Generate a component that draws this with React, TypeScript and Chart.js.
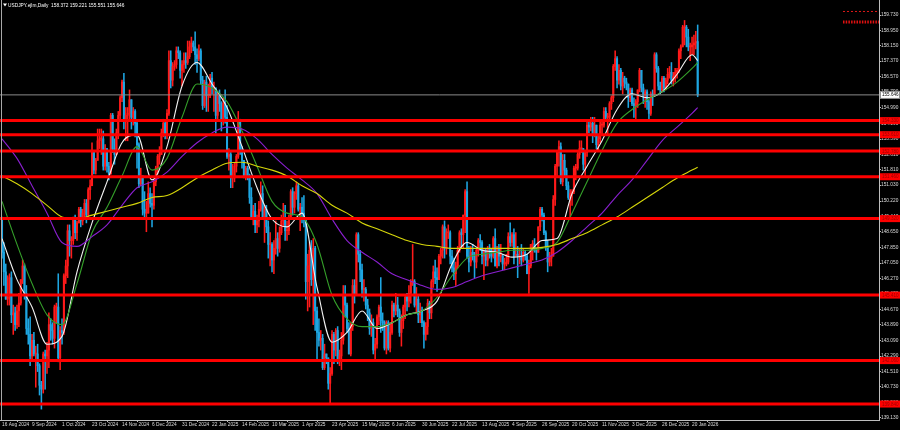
import React, { useEffect, useRef } from "react";
import { Chart, registerables } from "chart.js";

Chart.register(...registerables);

// ---- Daily OHLC bars [open, high, low, close] ----
const aug2024 = [
  [149.30,149.40,147.30,147.60],[147.60,148.10,145.90,146.60],[146.60,147.00,145.20,145.20],[145.20,146.40,144.90,145.30],
  [145.30,146.50,144.90,146.30],[146.30,146.60,144.00,144.40],[144.40,144.90,143.40,144.50],[144.50,144.80,143.60,143.90],
  [143.90,144.90,143.70,144.60],[144.60,145.50,143.80,145.00],[145.00,146.20,144.90,146.20],
];
const sep2024 = [
  [146.20,147.20,146.00,146.90],[146.90,147.00,145.20,145.50],[145.50,145.90,143.40,143.70],[143.70,144.20,142.90,143.40],
  [143.40,144.30,141.80,142.30],[142.30,143.40,142.00,143.10],[143.10,143.50,142.30,142.40],[142.40,142.80,140.70,142.40],
  [142.40,142.90,141.50,141.80],[141.80,141.90,140.30,140.80],[140.80,141.00,139.58,140.60],[140.60,142.50,140.40,142.40],
  [142.40,142.60,140.60,142.30],[142.30,143.00,141.40,142.60],[142.60,144.50,141.70,143.90],[143.90,144.20,143.10,143.60],
  [143.60,144.00,142.90,143.20],[143.20,144.90,142.70,144.80],[144.80,145.00,144.00,144.80],[144.80,146.50,142.00,142.20],
  [142.20,143.80,141.60,143.60],
];
const oct2024 = [
  [143.60,144.20,142.90,143.50],[143.50,146.50,143.40,146.40],[146.40,147.20,146.00,146.90],[146.90,149.00,146.30,148.70],
  [148.70,149.00,147.40,148.20],[148.20,148.40,147.30,148.20],[148.20,149.40,148.00,149.30],[149.30,149.50,148.30,148.60],
  [148.60,149.20,148.20,149.10],[149.10,149.90,149.10,149.80],[149.80,149.90,148.90,149.20],[149.20,149.80,149.00,149.60],
  [149.60,150.30,149.30,150.10],[150.10,150.30,149.10,149.50],[149.50,150.90,149.40,150.80],[150.80,151.30,150.30,151.00],
  [151.00,153.20,151.00,152.70],[152.70,152.80,151.60,151.80],[151.80,152.40,151.60,152.30],[152.30,153.90,152.30,153.30],
  [153.30,153.90,152.90,153.40],[153.40,153.90,152.60,153.40],[153.40,153.80,151.80,152.00],
];
const nov2024 = [
  [152.00,153.10,151.80,152.90],[152.90,152.90,151.70,152.00],[152.00,152.20,151.30,151.60],[151.60,154.70,151.60,154.60],
  [154.60,154.70,152.70,152.90],[152.90,153.40,152.10,152.60],[152.60,153.90,152.60,153.70],[153.70,154.80,153.40,154.60],
  [154.60,155.60,154.30,155.50],[155.50,156.40,155.30,156.30],[156.30,156.75,153.90,154.30],[154.30,155.00,153.30,154.60],
  [154.60,155.00,153.30,154.70],[154.70,155.90,154.40,155.40],[155.40,155.40,153.90,154.50],[154.50,155.00,154.10,154.80],
  [154.80,154.90,153.50,154.20],[154.20,154.40,151.90,153.10],[153.10,153.20,150.90,151.10],[151.10,151.90,151.00,151.50],
  [151.50,151.50,149.50,149.80],
];
const dec2024 = [
  [149.80,150.70,149.30,149.60],[149.60,150.20,148.65,149.60],[149.60,151.20,149.60,150.60],[150.60,150.90,149.90,150.10],
  [150.10,150.60,148.90,150.00],[150.00,151.30,149.80,151.20],[151.20,152.00,151.00,151.90],[151.90,152.60,151.60,152.50],
  [152.50,153.00,152.10,152.60],[152.60,153.90,152.60,153.70],[153.70,154.40,153.50,154.20],[154.20,154.30,153.40,153.60],
  [153.60,154.90,153.40,154.70],[154.70,157.90,154.60,157.40],[157.40,157.90,156.00,156.40],[156.40,157.30,156.10,157.10],
  [157.10,157.40,156.90,157.20],[157.20,158.10,157.00,157.90],[157.90,158.10,157.50,157.80],[157.80,157.90,156.50,156.90],
  [156.90,157.40,156.10,157.20],
];
const jan2025 = [
  [157.20,157.80,156.80,157.40],[157.40,157.80,157.00,157.30],[157.30,158.40,157.20,157.60],[157.60,158.40,157.50,158.10],
  [158.10,158.60,157.80,158.30],[158.30,158.40,157.90,158.10],[158.10,158.87,157.20,157.70],[157.70,158.00,156.80,157.50],
  [157.50,158.20,157.40,157.90],[157.90,158.00,156.20,156.40],[156.40,156.60,154.90,155.10],[155.10,156.40,155.00,156.30],
  [156.30,156.60,154.80,155.60],[155.60,156.20,154.80,155.60],[155.60,156.70,155.50,156.50],[156.50,156.80,155.70,156.00],
  [156.00,156.30,154.80,156.00],[156.00,156.00,153.70,154.60],[154.60,155.80,154.40,155.60],[155.60,155.90,154.80,155.20],
  [155.20,155.30,153.80,154.30],[154.30,155.50,154.10,155.20],
];
const feb2025 = [
  [155.20,155.90,154.20,154.50],[154.50,155.10,152.40,152.50],[152.50,152.90,151.80,152.60],[152.60,152.70,150.90,151.40],
  [151.40,152.10,150.90,151.40],[151.40,152.20,151.20,152.00],[152.00,152.60,151.70,152.50],[152.50,154.80,152.40,154.40],
  [154.40,154.40,152.60,152.80],[152.80,153.00,151.90,152.30],[152.30,152.30,151.40,151.50],[151.50,152.00,151.30,151.90],
  [151.90,152.00,151.30,151.50],[151.50,151.60,150.10,150.40],[150.40,150.90,149.30,149.30],[149.30,150.00,149.00,149.70],
  [149.70,150.10,148.60,149.00],[149.00,149.50,148.60,149.20],[149.20,150.20,148.90,149.80],[149.80,151.20,149.70,150.60],
];
const mar2025 = [
  [150.60,151.00,149.40,149.40],[149.40,150.00,148.10,149.80],[149.80,150.00,148.60,148.90],[148.90,149.20,147.30,148.00],
  [148.00,148.60,146.90,148.00],[148.00,148.10,146.60,147.20],[147.20,148.20,146.50,147.80],[147.80,149.20,147.50,148.30],
  [148.30,148.60,147.40,147.80],[147.80,148.90,147.60,148.60],[148.60,149.50,148.50,149.20],[149.20,150.10,148.90,149.30],
  [149.30,150.00,148.20,148.70],[148.70,149.20,148.20,148.70],[148.70,149.50,148.50,149.30],[149.30,150.80,149.30,150.70],
  [150.70,150.90,149.50,149.90],[149.90,150.70,149.60,150.60],[150.60,151.20,150.30,151.00],[151.00,151.10,149.70,149.80],
  [149.80,150.10,148.70,149.90],
];
const apr2025 = [
  [149.90,150.40,149.10,149.60],[149.60,150.50,148.90,149.30],[149.30,149.30,145.20,146.10],[146.10,147.50,144.60,146.90],
  [146.90,148.10,144.80,147.70],[147.70,148.20,145.90,146.20],[146.20,148.30,143.90,147.80],[147.80,147.90,143.60,144.60],
  [144.60,144.80,142.10,143.50],[143.50,144.20,142.80,143.10],[143.10,143.60,142.60,143.20],[143.20,143.40,141.60,141.70],
  [141.70,142.90,141.60,142.40],[142.40,142.40,141.90,142.20],[142.20,142.20,140.60,140.90],[140.90,141.70,139.89,141.40],
  [141.40,143.60,141.30,143.40],[143.40,143.50,141.90,142.60],[142.60,143.70,142.30,143.60],[143.60,143.80,141.90,142.00],
  [142.00,142.60,141.80,142.30],[142.30,143.50,141.60,143.10],
];
const may2025 = [
  [143.10,145.90,142.90,145.40],[145.40,145.90,144.30,144.90],[144.90,145.00,143.50,143.70],[143.70,144.00,142.40,142.40],
  [142.40,144.00,142.30,143.80],[143.80,146.20,143.60,145.90],[145.90,146.20,145.00,145.40],[145.40,148.60,145.40,148.50],
  [148.50,148.60,147.10,147.50],[147.50,147.70,146.10,146.70],[146.70,147.00,145.30,145.70],[145.70,146.20,145.10,145.70],
  [145.70,145.80,144.70,144.90],[144.90,145.20,144.10,144.50],[144.50,144.70,143.40,143.70],[143.70,144.40,143.30,144.00],
  [144.00,144.20,142.40,142.60],[142.60,143.20,142.10,142.90],[142.90,144.40,142.70,144.30],[144.30,144.90,143.90,144.80],
  [144.80,146.30,143.50,144.10],[144.10,144.50,143.60,144.00],
];
const jun2025 = [
  [144.00,144.10,142.60,142.70],[142.70,144.10,142.40,144.00],[144.00,144.10,142.60,142.70],[142.70,144.00,142.50,143.50],
  [143.50,145.10,143.40,144.90],[144.90,145.00,144.30,144.60],[144.60,145.50,144.40,144.90],[144.90,145.30,144.30,144.60],
  [144.60,144.70,143.30,143.50],[143.50,144.40,142.80,144.10],[144.10,144.90,143.70,144.80],[144.80,145.40,144.20,145.30],
  [145.30,145.50,144.60,145.10],[145.10,145.90,144.80,145.50],[145.50,146.20,145.00,146.10],[146.10,148.00,145.90,146.10],
  [146.10,146.20,144.80,144.90],[144.90,145.80,144.50,145.20],[145.20,145.40,144.00,144.40],[144.40,145.00,144.00,144.60],
  [144.60,144.80,143.80,144.00],
];
const jul2025 = [
  [144.00,144.10,142.70,143.40],[143.40,144.00,143.10,143.80],[143.80,145.20,143.40,145.00],[145.00,145.10,144.20,144.50],
  [144.50,146.20,144.20,146.10],[146.10,146.90,145.80,146.60],[146.60,147.20,146.00,146.30],[146.30,146.80,145.60,146.20],
  [146.20,147.50,146.20,147.40],[147.40,147.80,147.00,147.70],[147.70,149.00,147.30,148.90],[148.90,149.20,147.30,147.80],
  [147.80,148.80,147.50,148.60],[148.60,149.00,148.30,148.60],[148.60,148.70,147.00,147.40],[147.40,147.70,146.60,146.80],
  [146.80,147.30,146.20,146.50],[146.50,147.10,145.90,146.90],[146.90,147.90,146.80,147.70],[147.70,148.70,147.60,148.60],
  [148.60,148.80,147.90,148.50],[148.50,149.50,147.80,149.50],[149.50,150.80,148.60,150.70],
];
const aug2025 = [
  [150.70,151.20,147.30,147.40],[147.40,147.90,146.60,147.10],[147.10,147.90,146.90,147.60],[147.60,148.00,147.20,147.40],
  [147.40,147.60,146.30,147.10],[147.10,147.80,146.80,147.70],[147.70,148.30,147.40,148.20],[148.20,148.50,147.70,148.10],
  [148.10,148.20,147.00,147.40],[147.40,147.80,146.20,147.70],[147.70,147.80,146.90,147.20],[147.20,147.90,146.90,147.80],
  [147.80,148.00,147.30,147.70],[147.70,147.80,147.10,147.40],[147.40,148.40,147.30,148.30],[148.30,148.80,146.90,146.90],
  [146.90,147.90,146.80,147.80],[147.80,148.00,146.90,147.40],[147.40,148.00,147.10,147.40],[147.40,147.50,146.70,147.00],
  [147.00,147.30,146.70,147.00],
];
const sep2025 = [
  [147.00,147.50,146.90,147.10],[147.10,148.60,147.00,148.40],[148.40,149.10,147.90,148.10],[148.10,148.60,147.90,148.50],
  [148.50,148.80,147.00,147.40],[147.40,148.60,147.40,147.50],[147.50,147.90,146.30,147.40],[147.40,147.80,147.00,147.40],
  [147.40,148.00,146.90,147.20],[147.20,147.80,147.10,147.60],[147.60,147.70,147.20,147.40],[147.40,147.50,146.50,146.50],
  [146.50,147.20,145.50,146.90],[146.90,148.00,146.80,148.00],[148.00,148.20,147.20,148.00],[148.00,148.30,147.60,147.70],
  [147.70,147.80,147.20,147.60],[147.60,148.90,147.60,148.90],[148.90,149.90,148.70,149.80],[149.80,149.90,149.20,149.50],
  [149.50,149.60,148.50,148.60],[148.60,148.70,147.70,147.90],
];
const oct2025 = [
  [147.90,148.20,146.60,147.10],[147.10,147.60,146.90,147.30],[147.30,147.80,146.90,147.40],[147.40,150.50,147.40,150.30],
  [150.30,152.10,150.00,152.00],[152.00,152.80,151.50,152.70],[152.70,153.30,152.00,153.00],[153.00,153.20,151.10,151.20],
  [151.20,152.60,151.00,152.30],[152.30,152.60,151.50,151.80],[151.80,151.90,150.80,151.00],[151.00,151.20,150.30,150.40],
  [150.40,150.80,149.40,150.60],[150.60,150.80,150.00,150.70],[150.70,152.00,150.60,151.90],[151.90,152.10,151.30,151.90],
  [151.90,152.70,151.80,152.60],[152.60,153.30,152.40,152.90],[152.90,153.30,152.70,152.90],[152.90,152.90,151.80,152.10],
  [152.10,152.80,151.50,152.70],[152.70,154.40,152.50,154.10],[154.10,154.40,153.70,154.00],
];
const nov2025 = [
  [154.00,154.50,153.80,154.20],[154.20,154.50,153.20,153.60],[153.60,154.50,153.50,154.10],[154.10,154.10,152.90,153.10],
  [153.10,153.60,152.80,153.40],[153.40,154.30,153.20,154.10],[154.10,154.30,153.60,154.10],[154.10,155.00,154.00,154.80],
  [154.80,155.00,154.30,154.50],[154.50,154.70,153.60,154.50],[154.50,155.30,154.40,155.20],[155.20,155.60,154.90,155.50],
  [155.50,157.20,155.30,157.10],[157.10,157.90,156.90,157.50],[157.50,157.60,156.00,156.40],[156.40,157.20,156.20,156.90],
  [156.90,157.00,155.90,156.10],[156.10,156.80,155.70,156.50],[156.50,156.60,156.00,156.30],[156.30,156.50,155.90,156.20],
];
const dec2025 = [
  [156.20,156.20,155.00,155.50],[155.50,156.00,155.30,155.90],[155.90,156.00,155.10,155.20],[155.20,155.50,154.50,155.10],
  [155.10,155.40,154.40,155.30],[155.30,155.90,155.00,155.90],[155.90,157.00,155.80,156.90],[156.90,156.90,155.80,156.00],
  [156.00,156.20,155.20,155.60],[155.60,155.90,155.00,155.80],[155.80,155.90,154.90,155.30],[155.30,155.40,154.40,154.70],
  [154.70,155.80,154.60,155.70],[155.70,155.90,155.10,155.60],[155.60,157.80,155.60,157.70],[157.70,157.80,156.80,157.00],
  [157.00,157.10,155.90,156.10],[156.10,156.30,155.70,155.90],[155.90,156.60,155.80,156.50],[156.50,156.60,155.80,156.00],
  [156.00,156.50,155.90,156.40],[156.40,157.00,156.20,156.70],
];
const jan2026 = [
  [156.70,157.10,156.50,156.80],[156.80,157.30,156.20,156.40],[156.40,156.80,156.10,156.60],[156.60,157.00,156.30,156.80],
  [156.80,157.00,156.50,156.90],[156.90,158.00,156.80,157.90],[157.90,158.20,157.50,158.10],[158.10,159.20,158.10,159.10],
  [159.10,159.45,158.20,159.10],[159.10,159.20,158.10,158.60],[158.60,159.00,157.90,158.10],[158.10,158.30,157.40,158.10],
  [158.10,158.60,157.70,158.20],[158.20,158.70,157.70,158.30],[158.30,158.90,158.00,158.372],[158.372,159.221,155.551,155.646],
];

// ---- Axis labels ----
const dateLabels = [
  "16 Aug 2024","9 Sep 2024","1 Oct 2024","23 Oct 2024","14 Nov 2024","6 Dec 2024","31 Dec 2024","22 Jan 2025",
  "14 Feb 2025","10 Mar 2025","1 Apr 2025","23 Apr 2025","15 May 2025","6 Jun 2025","30 Jun 2025","22 Jul 2025",
  "13 Aug 2025","4 Sep 2025","26 Sep 2025","20 Oct 2025","11 Nov 2025","3 Dec 2025","26 Dec 2025","20 Jan 2026",
];
const dateLabelStep = 16;
const priceTicks = [
  159.73,158.95,158.15,157.37,156.57,155.79,154.99,154.19,153.39,152.61,151.81,151.03,150.22,149.44,
  148.65,147.85,147.05,146.27,145.47,144.67,143.89,143.09,142.29,141.51,140.73,139.93,139.13,
];

// ---- Horizontal levels ----
const levels = [154.33, 153.61, 152.78, 151.46, 149.32, 145.41, 142.06, 139.84];
const currentPrice = 155.646;
const orderLevels = [159.91, 159.37];
const orderLineFrom = 448.5;

// ---- Moving averages (sampled at bar index) ----
const maIndex = [0,8,16,24,32,40,48,56,64,72,80,88,96,104,112,120,128,136,144,152,160,168,176,184,192,200,
  208,216,224,232,240,248,256,264,272,280,288,296,304,312,320,328,336,344,352,360,368,371];
const maWhite = [148.3,146.2,144.8,142.9,143.3,146.6,149.1,151.2,153.2,153.6,151.3,153.0,156.1,157.3,156.2,155.0,
  153.0,150.9,149.3,148.9,149.6,145.8,143.0,143.5,144.6,143.7,144.0,144.4,144.6,145.1,147.0,148.1,
  147.7,147.6,147.35,147.5,148.2,148.3,150.6,152.0,153.3,154.9,155.7,155.5,155.8,156.7,157.7,157.4];
const maGreen = [150.2,148.0,146.0,144.4,143.9,146.0,148.6,149.9,151.5,153.0,151.8,152.4,154.5,156.2,156.0,155.3,
  153.8,152.0,150.2,149.6,149.4,148.0,145.4,144.2,143.8,143.8,144.0,144.4,144.6,145.3,146.4,147.3,
  147.5,147.6,147.7,147.7,147.8,148.1,149.6,151.2,152.8,154.2,154.9,155.4,155.8,156.3,157.0,157.3];
const maPurple = [153.4,152.4,151.0,149.6,148.1,147.9,148.4,149.0,150.0,150.9,151.2,151.7,152.5,153.2,153.7,154.0,
  153.9,153.4,152.6,151.9,151.3,150.6,149.3,148.2,147.6,147.1,146.5,146.2,145.9,145.7,145.8,146.1,
  146.4,146.6,146.8,147.0,147.2,147.6,148.2,148.9,149.6,150.5,151.3,152.3,153.3,154.0,154.7,155.0];
const maYellow = [151.5,151.1,150.6,150.0,149.4,149.3,149.5,149.7,149.9,150.1,150.4,150.5,150.9,151.4,151.8,152.15,
  152.2,152.0,151.8,151.5,151.0,150.6,150.0,149.6,149.1,148.8,148.5,148.2,148.0,147.9,147.8,147.8,
  147.8,147.8,147.8,147.8,147.85,148.0,148.3,148.6,149.0,149.4,149.9,150.4,150.9,151.4,151.8,151.95];

const symbolTitle = "USDJPY.ejlm,Daily";

const UP = "#ff1a1a";
const DOWN = "#1ea6e2";
const FONT = "'Liberation Sans', Arial, sans-serif";

export default function App() {
  const ref = useRef<HTMLCanvasElement | null>(null);

  useEffect(() => {
    const bars = [
      ...aug2024, ...sep2024, ...oct2024, ...nov2024, ...dec2024, ...jan2025, ...feb2025, ...mar2025,
      ...apr2025, ...may2025, ...jun2025, ...jul2025, ...aug2025, ...sep2025, ...oct2025, ...nov2025,
      ...dec2025, ...jan2026,
    ];
    const n = bars.length;
    const last = bars[n - 1];
    const colors = bars.map((b) => (b[3] >= b[0] ? UP : DOWN));
    const wicks = bars.map((b, i) => ({ x: i, y: [b[2], b[1]] }));
    const bodies = bars.map((b, i) => ({ x: i, y: [Math.min(b[0], b[3]), Math.max(b[0], b[3])] }));
    const ma = (vals: number[]) => maIndex.map((x, k) => ({ x, y: vals[k] }));
    const X_MIN = -1.07;
    const X_MAX = 467.7;

    const lineDs = (data: any[], color: string, width: number, order: number, extra: any = {}) => ({
      type: "line" as const,
      data,
      borderColor: color,
      borderWidth: width,
      pointRadius: 0,
      fill: false,
      order,
      ...extra,
    });

    const overlay = {
      id: "overlay",
      afterDraw(chart: any) {
        const { ctx, chartArea, scales } = chart;
        const ys = scales.y;
        ctx.save();
        // left frame
        ctx.strokeStyle = "#a8a8a8";
        ctx.lineWidth = 1;
        ctx.beginPath();
        ctx.moveTo(chartArea.left + 1.5, chartArea.top);
        ctx.lineTo(chartArea.left + 1.5, chartArea.bottom);
        ctx.stroke();

        ctx.font = `4.6px ${FONT}`;
        ctx.textBaseline = "middle";
        ctx.textAlign = "left";
        // level boxes on the price axis
        levels.forEach((v) => {
          const py = ys.getPixelForValue(v);
          ctx.fillStyle = "#ff0000";
          ctx.fillRect(chartArea.right + 1, py - 3.5, 21, 7);
          ctx.fillStyle = "#9a0000";
          ctx.fillText(v.toFixed(3), chartArea.right + 3, py + 0.3);
        });
        // current price box
        const cy = ys.getPixelForValue(currentPrice);
        ctx.fillStyle = "#ffffff";
        ctx.fillRect(chartArea.right + 1, cy - 3.5, 20, 7);
        ctx.strokeStyle = "#909090";
        ctx.strokeRect(chartArea.right + 1.5, cy - 3.5, 19, 7);
        ctx.fillStyle = "#000000";
        ctx.fillText(currentPrice.toFixed(3), chartArea.right + 3, cy + 0.3);

        // title
        ctx.fillStyle = "#ffffff";
        ctx.beginPath();
        ctx.moveTo(3, 3.5);
        ctx.lineTo(7, 3.5);
        ctx.lineTo(5, 6.5);
        ctx.closePath();
        ctx.fill();
        const t = `${symbolTitle}  ${last[0].toFixed(3)} ${last[1].toFixed(3)} ${last[2].toFixed(3)} ${last[3].toFixed(3)}`;
        ctx.font = `4.8px ${FONT}`;
        ctx.fillText(t, 8, 5.2);
        ctx.restore();
      },
    };

    const chart = new Chart(ref.current as HTMLCanvasElement, {
      type: "bar",
      data: {
        datasets: [
          ...levels.map((v) => lineDs([{ x: X_MIN - 1, y: v }, { x: X_MAX + 1, y: v }], "#ff0000", 3, 0)),
          lineDs([{ x: X_MIN - 1, y: currentPrice }, { x: X_MAX + 1, y: currentPrice }], "#8a8a8a", 1, 0.5),
          lineDs([{ x: orderLineFrom, y: orderLevels[0] }, { x: X_MAX + 1, y: orderLevels[0] }], "#e01818", 1, 0.5, { borderDash: [2, 2] }),
          lineDs([{ x: orderLineFrom, y: orderLevels[1] }, { x: X_MAX + 1, y: orderLevels[1] }], "#e01010", 3, 0.5, { borderDash: [1.5, 1.2] }),
          lineDs(ma(maYellow), "#d6d60a", 1.1, 1, { cubicInterpolationMode: "monotone" }),
          lineDs(ma(maPurple), "#8a1fd0", 1.1, 1, { cubicInterpolationMode: "monotone" }),
          lineDs(ma(maGreen), "#35a02a", 1.1, 1, { cubicInterpolationMode: "monotone" }),
          lineDs(ma(maWhite), "#f2f2f2", 1.1, 1, { cubicInterpolationMode: "monotone" }),
          {
            type: "bar" as const,
            data: bodies as any,
            backgroundColor: colors,
            borderWidth: 0,
            barThickness: 1.4,
            minBarLength: 1,
            grouped: false,
            order: 2,
          },
          {
            type: "bar" as const,
            data: wicks as any,
            backgroundColor: colors,
            borderWidth: 0,
            barThickness: 0.9,
            grouped: false,
            order: 3,
          },
        ] as any,
      },
      options: {
        responsive: false,
        animation: false,
        events: [],
        layout: { padding: 0 },
        plugins: { legend: { display: false }, tooltip: { enabled: false }, title: { display: false } },
        scales: {
          x: {
            type: "linear",
            min: X_MIN,
            max: X_MAX,
            offset: false,
            grid: { display: true, drawOnChartArea: false, drawTicks: true, tickLength: 2, color: "#bdbdbd" },
            border: { display: true, color: "#bdbdbd" },
            ticks: {
              color: "#dcdcdc",
              font: { family: FONT, size: 4.8 },
              align: "start",
              padding: 0,
              maxRotation: 0,
              minRotation: 0,
              autoSkip: false,
              callback: (_v: any, i: number) => dateLabels[i] ?? "",
            },
            afterBuildTicks: (s: any) => {
              s.ticks = dateLabels.map((_, k) => ({ value: k * dateLabelStep }));
            },
            afterFit: (s: any) => {
              s.height = 10;
              s.paddingLeft = 0;
              s.paddingRight = 0;
            },
          },
          y: {
            type: "linear",
            position: "right",
            min: 139.024,
            max: 160.497,
            grid: { display: true, drawOnChartArea: false, drawTicks: true, tickLength: 2, color: "#bdbdbd" },
            border: { display: true, color: "#bdbdbd" },
            ticks: {
              color: "#dcdcdc",
              font: { family: FONT, size: 4.8 },
              padding: 0,
              autoSkip: false,
              callback: (v: any) => Number(v).toFixed(3),
            },
            afterBuildTicks: (s: any) => {
              s.ticks = priceTicks.map((v) => ({ value: v }));
            },
            afterFit: (s: any) => {
              s.width = 21;
              s.paddingTop = 0;
              s.paddingBottom = 0;
            },
          },
        },
      } as any,
      plugins: [overlay],
    });
    return () => chart.destroy();
  }, []);

  return (
    <div style={{ position: "fixed", left: 0, top: 0, width: 900, height: 430, background: "#000" }}>
      <canvas ref={ref} width={900} height={430} style={{ display: "block", width: 900, height: 430 }} />
    </div>
  );
}
